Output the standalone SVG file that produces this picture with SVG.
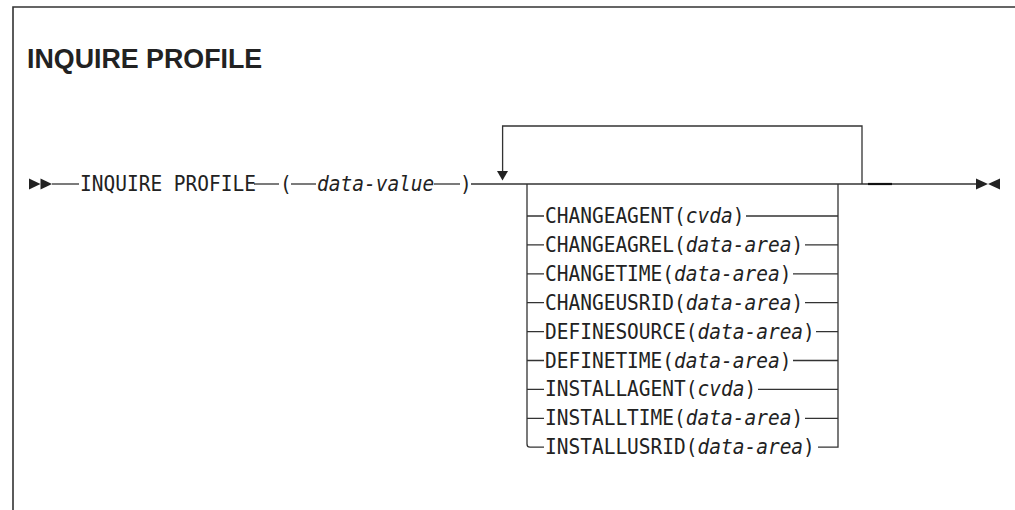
<svg xmlns="http://www.w3.org/2000/svg" width="1015" height="510" viewBox="0 0 1015 510">
<style>
.ln{stroke:#333;stroke-width:1.3;fill:none}
.fr{stroke:#333;stroke-width:1.6;fill:none}
.t{font-family:"DejaVu Sans Mono","Liberation Mono",monospace;font-size:19.5px;fill:#222}
.i{font-style:italic}
.title{font-family:"Liberation Sans",Arial,sans-serif;font-weight:bold;font-size:26.8px;fill:#222}
.ar{fill:#222}
</style>
<rect width="1015" height="510" fill="#fff"/>
<g id="frame">
<path class="fr" d="M13 510 V7 H1015"/>
</g>
<g id="title"><text class="title" x="27" y="68">INQUIRE PROFILE</text></g>
<g id="connectors">
<polygon class="ar" points="29,178.5 40.5,184 29,189.5"/>
<polygon class="ar" points="40.5,178.5 52,184 40.5,189.5"/>
<path class="ln" d="M52 184 H79"/>
<path class="ln" d="M254 184 H279"/>
<path class="ln" d="M291 184 H316"/>
<path class="ln" d="M434 184 H460"/>
<path class="ln" d="M471 184 H976"/>
<path d="M868 184 H892" stroke="#111" stroke-width="2.2"/>
<polygon class="ar" points="976,178.5 988,184 976,189.5"/>
<polygon class="ar" points="1000,178.5 988,184 1000,189.5"/>
<path class="ln" d="M502.6 171 V126 H862 V184"/>
<polygon class="ar" points="497,171 508,171 502.5,180.5"/>
<path class="ln" d="M527 184 V444 Q527 447.2 530 447.2 H544"/>
<path class="ln" d="M838 184 V447.2 H818"/>
<path class="ln" d="M527 216 H544 M746 216 H838"/>
<path class="ln" d="M527 244.9 H544 M805 244.9 H838"/>
<path class="ln" d="M527 273.8 H544 M793 273.8 H838"/>
<path class="ln" d="M527 302.7 H544 M805 302.7 H838"/>
<path class="ln" d="M527 331.6 H544 M816 331.6 H838"/>
<path class="ln" d="M527 360.5 H544 M793 360.5 H838"/>
<path class="ln" d="M527 389.4 H544 M758 389.4 H838"/>
<path class="ln" d="M527 418.3 H544 M805 418.3 H838"/>
</g>
<g id="n-inquire"><text class="t" transform="translate(80,191) scale(1,1.12)">INQUIRE PROFILE</text></g>
<g id="n-lparen"><text class="t" transform="translate(280,191) scale(1,1.12)">(</text></g>
<g id="n-datavalue"><text class="t i" transform="translate(317,191) scale(1,1.12)">data-value</text></g>
<g id="n-rparen"><text class="t" transform="translate(460,191) scale(1,1.12)">)</text></g>
<g id="n-changeagent"><text class="t" transform="translate(545,223) scale(1,1.12)">CHANGEAGENT(<tspan class="i">cvda</tspan>)</text></g>
<g id="n-changeagrel"><text class="t" transform="translate(545,251.9) scale(1,1.12)">CHANGEAGREL(<tspan class="i">data-area</tspan>)</text></g>
<g id="n-changetime"><text class="t" transform="translate(545,280.8) scale(1,1.12)">CHANGETIME(<tspan class="i">data-area</tspan>)</text></g>
<g id="n-changeusrid"><text class="t" transform="translate(545,309.7) scale(1,1.12)">CHANGEUSRID(<tspan class="i">data-area</tspan>)</text></g>
<g id="n-definesource"><text class="t" transform="translate(545,338.6) scale(1,1.12)">DEFINESOURCE(<tspan class="i">data-area</tspan>)</text></g>
<g id="n-definetime"><text class="t" transform="translate(545,367.5) scale(1,1.12)">DEFINETIME(<tspan class="i">data-area</tspan>)</text></g>
<g id="n-installagent"><text class="t" transform="translate(545,396.4) scale(1,1.12)">INSTALLAGENT(<tspan class="i">cvda</tspan>)</text></g>
<g id="n-installtime"><text class="t" transform="translate(545,425.3) scale(1,1.12)">INSTALLTIME(<tspan class="i">data-area</tspan>)</text></g>
<g id="n-installusrid"><text class="t" transform="translate(545,454.2) scale(1,1.12)">INSTALLUSRID(<tspan class="i">data-area</tspan>)</text></g>
</svg>
